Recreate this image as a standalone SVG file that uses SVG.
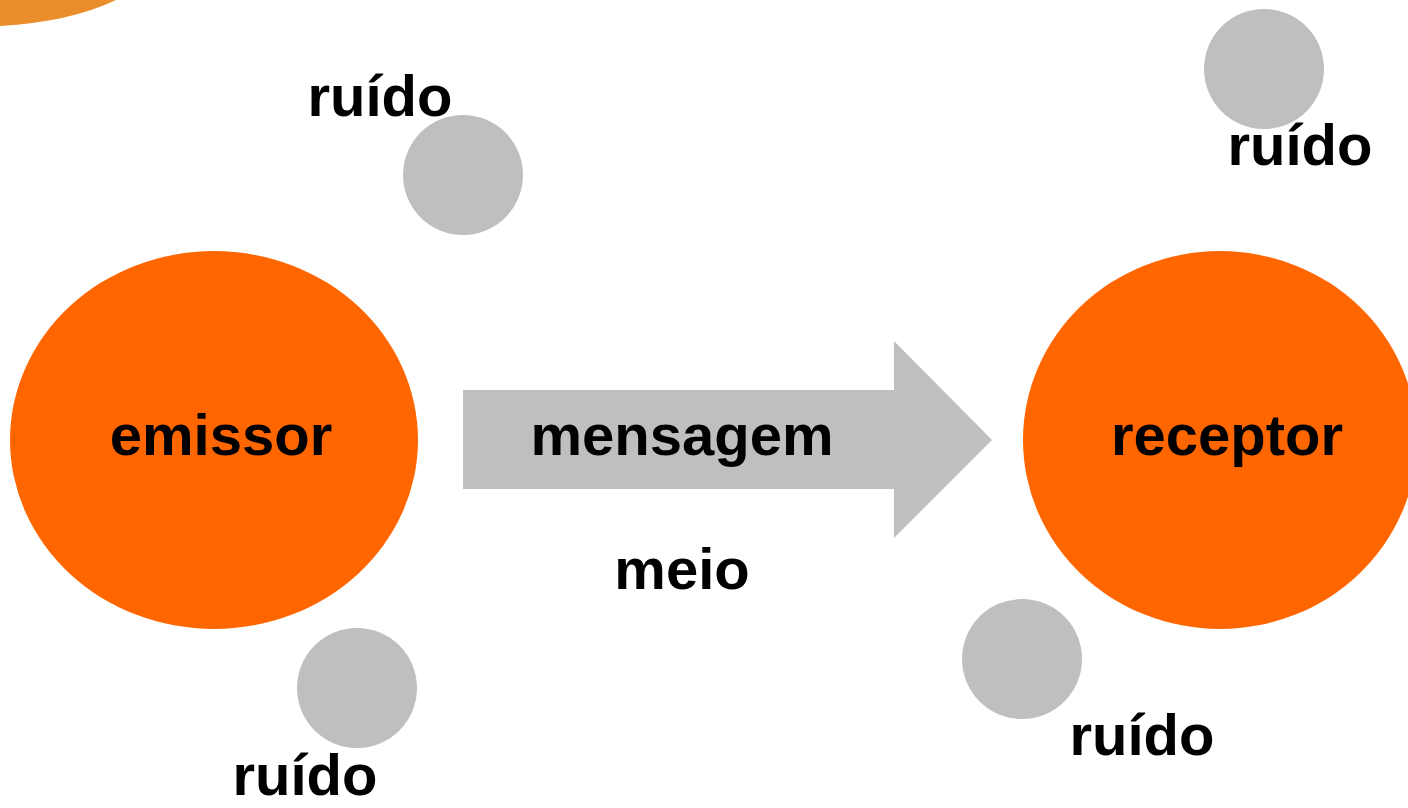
<svg xmlns="http://www.w3.org/2000/svg" width="1408" height="808" viewBox="0 0 1408 808">
<style>
.big{fill:#FF6600}
.noise{fill:#BFBFBF}
text{font-family:"Liberation Sans",Arial,sans-serif;font-weight:bold;font-size:58px;fill:#000;text-anchor:middle}
</style>
<rect width="1408" height="808" fill="#fff"/>
<path d="M0,0 L116,0 Q70,22 0,26 Z" fill="#EA8E2C"/>
<g id="connectors">
<g id="mensagem">
<path d="M463,390 L894,390 L894,341 L992,440 L894,538 L894,489 L463,489 Z" fill="#BFBFBF"/>
<text x="682" y="455">mensagem</text>
</g>
</g>
<g id="emissor"><ellipse class="big" cx="214" cy="440" rx="204" ry="189"/><text x="221" y="455">emissor</text></g>
<g id="receptor"><ellipse class="big" cx="1220" cy="440" rx="197" ry="189"/><text x="1227" y="455">receptor</text></g>
<g id="meio"><text x="682" y="589">meio</text></g>
<g id="ruido1"><circle class="noise" cx="463" cy="175" r="60"/><text x="380" y="116">ruído</text></g>
<g id="ruido2"><circle class="noise" cx="1264" cy="69" r="60"/><text x="1300" y="165">ruído</text></g>
<g id="ruido3"><circle class="noise" cx="357" cy="688" r="60"/><text x="305" y="795">ruído</text></g>
<g id="ruido4"><circle class="noise" cx="1022" cy="659" r="60"/><text x="1142" y="755">ruído</text></g>
</svg>
